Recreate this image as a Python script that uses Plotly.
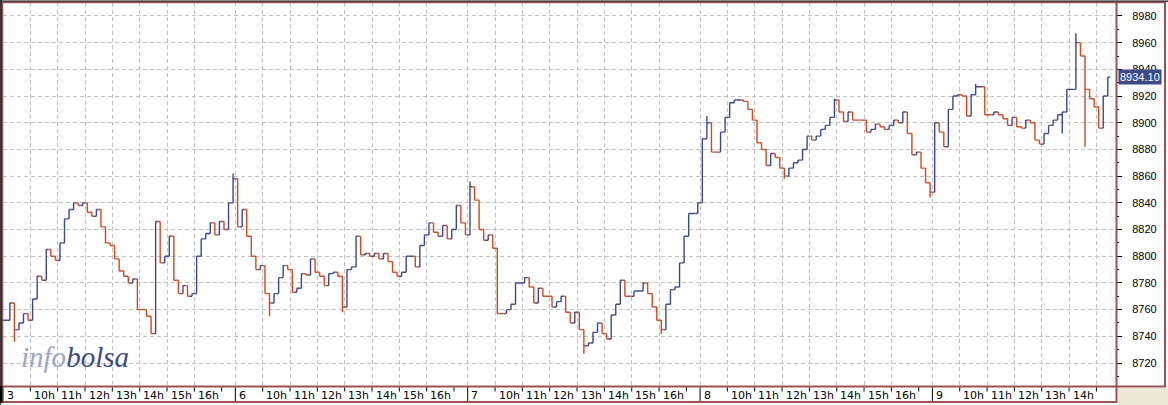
import plotly.graph_objects as go

# ---------------- data ----------------
day_labels = ["3", "6", "7", "8", "9"]
hour_labels = ["10h", "11h", "12h", "13h", "14h", "15h", "16h"]

# 10-minute closes from 9:00 onward, one list per session
close_d3 = [8752, 8765, 8745, 8750, 8757, 8752, 8768, 8785, 8782, 8805,
            8800, 8797, 8810, 8828, 8835, 8840, 8838, 8840, 8833, 8830,
            8835, 8822, 8810, 8808, 8798, 8789, 8785, 8780, 8783, 8760,
            8760, 8755, 8742, 8826, 8795, 8800, 8815, 8782, 8772, 8778,
            8770, 8772, 8800, 8813, 8817, 8825, 8816, 8826, 8820, 8840,
            8858]
close_d6 = [8822, 8835, 8815, 8800, 8790, 8793, 8772, 8765, 8772, 8784,
            8793, 8790, 8773, 8776, 8787, 8786, 8798, 8788, 8785, 8778,
            8787, 8788, 8785, 8762, 8790, 8792, 8815, 8801, 8802, 8800,
            8802, 8798, 8802, 8796, 8788, 8785, 8788, 8800, 8800, 8792,
            8808, 8816, 8825, 8818, 8815, 8823, 8813, 8820, 8838, 8825,
            8816]
close_d7 = [8852, 8842, 8820, 8812, 8816, 8806, 8757, 8757, 8760, 8764,
            8780, 8780, 8784, 8777, 8765, 8776, 8770, 8770, 8762, 8766,
            8770, 8758, 8750, 8758, 8745, 8733, 8735, 8743, 8750, 8742,
            8738, 8756, 8764, 8782, 8770, 8770, 8774, 8774, 8780, 8772,
            8762, 8752, 8745, 8764, 8775, 8777, 8795, 8815, 8832, 8832,
            8840]
close_d8 = [8888, 8900, 8878, 8878, 8893, 8904, 8915, 8917, 8917, 8916,
            8910, 8902, 8885, 8880, 8868, 8877, 8874, 8866, 8860, 8866,
            8870, 8872, 8880, 8890, 8887, 8890, 8895, 8898, 8904, 8917,
            8908, 8901, 8908, 8902, 8902, 8902, 8893, 8895, 8899, 8897,
            8895, 8898, 8902, 8900, 8908, 8892, 8876, 8878, 8866, 8855,
            8848]
close_d9 = [8900, 8893, 8882, 8910, 8920, 8921, 8920, 8905, 8921, 8927,
            8927, 8906, 8906, 8908, 8906, 8903, 8898, 8904, 8897, 8896,
            8902, 8900, 8887, 8884, 8892, 8898, 8902, 8906, 8908, 8925,
            8925, 8960, 8950, 8925, 8918, 8912, 8896, 8920, 8934.10]
sessions = [close_d3, close_d6, close_d7, close_d8, close_d9]

# visible spikes beyond the open/close range  {session: {slot: value}}
spike_highs = {0: {50: 8862}, 2: {0: 8856}, 3: {1: 8905, 29: 8918},
               4: {9: 8929, 31: 8967}}
spike_lows = {0: {2: 8736}, 1: {7: 8755, 23: 8758}, 2: {25: 8727, 42: 8742},
              3: {18: 8858, 50: 8844}, 4: {28: 8892, 33: 8882}}

SESSION_MIN = 510   # 9:00 - 17:30
SLOT_MIN = 10
XR = [0, 2443]
YR = [8702.8, 8989.7]

# ---------------- build OHLC ----------------
xs, op, hi, lo, cl = [], [], [], [], []
prev = None
for d, closes in enumerate(sessions):
    for i, v in enumerate(closes):
        o = prev if prev is not None else v
        h = max(o, v, spike_highs.get(d, {}).get(i, v))
        l = min(o, v, spike_lows.get(d, {}).get(i, v))
        xs.append(d * SESSION_MIN + i * SLOT_MIN + SLOT_MIN / 2)
        op.append(o); hi.append(h); lo.append(l); cl.append(v)
        prev = v

BLUE = "#3a4894"
RED = "#d4481e"
BORDER = "#9e5050"
GRID = "#c0c0c0"

fig = go.Figure(go.Ohlc(
    x=xs, open=op, high=hi, low=lo, close=cl,
    increasing=dict(line=dict(color=BLUE, width=1.4)),
    decreasing=dict(line=dict(color=RED, width=1.4)),
    tickwidth=0.5, hoverinfo="skip",
))

W, H = 1168, 405
ML, MR, MT, MB = 3, 52, 3, 19
PW, PH = W - ML - MR, H - MT - MB


def px(xpix):
    return (xpix - ML) / PW


def py(ypix):
    return (H - MB - ypix) / PH


def xp(t):
    return (t - XR[0]) / (XR[1] - XR[0])


grid_vals = []
for d in range(len(sessions)):
    grid_vals.append(d * SESSION_MIN)
    for k in range(1, len(hour_labels) + 1):
        grid_vals.append(d * SESSION_MIN + k * 60)

shapes = []
annots = []

def line(x0, y0, x1, y1, color, width):
    shapes.append(dict(type="line", xref="paper", yref="paper", x0=x0, y0=y0,
                       x1=x1, y1=y1, line=dict(color=color, width=width)))

# beige corner
shapes.append(dict(type="rect", xref="paper", yref="paper", x0=px(1118), x1=px(1168),
                   y0=py(405), y1=py(388), fillcolor="#ece9d8", line=dict(width=0)))
# outer frame top / left
line(px(0), py(0.5), px(1168), py(0.5), "#8a8a8a", 1)
line(px(0), py(1.5), px(1168), py(1.5), "#3a3a3a", 1)
line(px(0.5), py(0), px(0.5), py(405), "#3a3a3a", 1)
line(px(1.5), py(0), px(1.5), py(403), "#202020", 1)
# plot frame
line(px(2.5), py(2.5), px(1165), py(2.5), BORDER, 1.5)
line(px(2.5), py(2.5), px(2.5), py(386), BORDER, 1.5)
line(px(2), py(386.5), px(1166), py(386.5), BORDER, 2)
line(px(1116.5), py(2), px(1116.5), py(403), BORDER, 2)
# right axis panel
line(px(1165), py(2), px(1165), py(387), BORDER, 2)
# bottom strip
line(px(0), py(402), px(1117), py(402), BORDER, 2)
line(px(1), py(386), px(1), py(403), "black", 3)

# time-axis ticks and labels
for d, dl in enumerate(day_labels):
    t0 = d * SESSION_MIN
    line(xp(t0), py(387.5), xp(t0), py(401), "black", 1)
    annots.append(dict(x=t0, xref="x", y=py(395), yref="paper", text=dl,
                       showarrow=False, xanchor="left", yanchor="middle", xshift=1.5,
                       font=dict(family="DejaVu Sans", size=11, color="black")))
    for k in range(1, len(hour_labels) + 2):
        t = t0 + k * 60
        if t > XR[1]:
            break
        line(xp(t), py(387.5), xp(t), py(391.5), "black", 1)
        if k <= len(hour_labels):
            xpix = ML + xp(t) * PW
            if xpix + 26 < 1116:
                annots.append(dict(x=t, xref="x", y=py(395), yref="paper",
                                   text=hour_labels[k - 1], showarrow=False,
                                   xanchor="left", yanchor="middle", xshift=1.5,
                                   font=dict(family="DejaVu Sans", size=11, color="black")))

# last price label
last = cl[-1]
annots.append(dict(x=px(1118), xref="paper", y=last, yref="y", text=f"{last:.2f}",
                   showarrow=False, xanchor="left", yanchor="middle",
                   bgcolor="#3c4a8c", borderpad=1,
                   font=dict(family="Liberation Sans, Arial", size=11, color="white")))

# logo
annots.append(dict(x=px(19), xref="paper", y=py(357), yref="paper",
                   text="<i><span style='color:#a0a5c6'>info</span>"
                        "<span style='color:#3d4a86'>bolsa</span></i>",
                   showarrow=False, xanchor="left", yanchor="middle",
                   font=dict(family="Liberation Serif, DejaVu Serif", size=29)))

fig.update_layout(
    width=W, height=H, margin=dict(l=ML, r=MR, t=MT, b=MB),
    paper_bgcolor="white", plot_bgcolor="white", showlegend=False,
    hovermode=False, dragmode=False,
    xaxis=dict(range=XR, tickmode="array", tickvals=grid_vals, showticklabels=False,
               ticks="", showgrid=True, gridcolor=GRID, griddash="4px,3px", gridwidth=1,
               zeroline=False, showline=False, rangeslider=dict(visible=False),
               fixedrange=True),
    yaxis=dict(side="right", range=YR, tickmode="linear", tick0=8720, dtick=20,
               ticks="outside", ticklen=5, tickwidth=1, tickcolor="black",
               minor=dict(tickmode="linear", tick0=8710, dtick=10, ticks="outside",
                          ticklen=2, tickcolor="black", showgrid=False),
               showgrid=True, gridcolor=GRID, griddash="4px,3px", gridwidth=1,
               zeroline=False, showline=False, ticklabelstandoff=8,
               tickfont=dict(family="Liberation Sans, Arial", size=11, color="black"),
               fixedrange=True),
    shapes=shapes, annotations=annots,
)

fig.write_html("out.html", config={"displayModeBar": False},
               post_script="document.body.style.margin='0';document.body.style.overflow='hidden';")
